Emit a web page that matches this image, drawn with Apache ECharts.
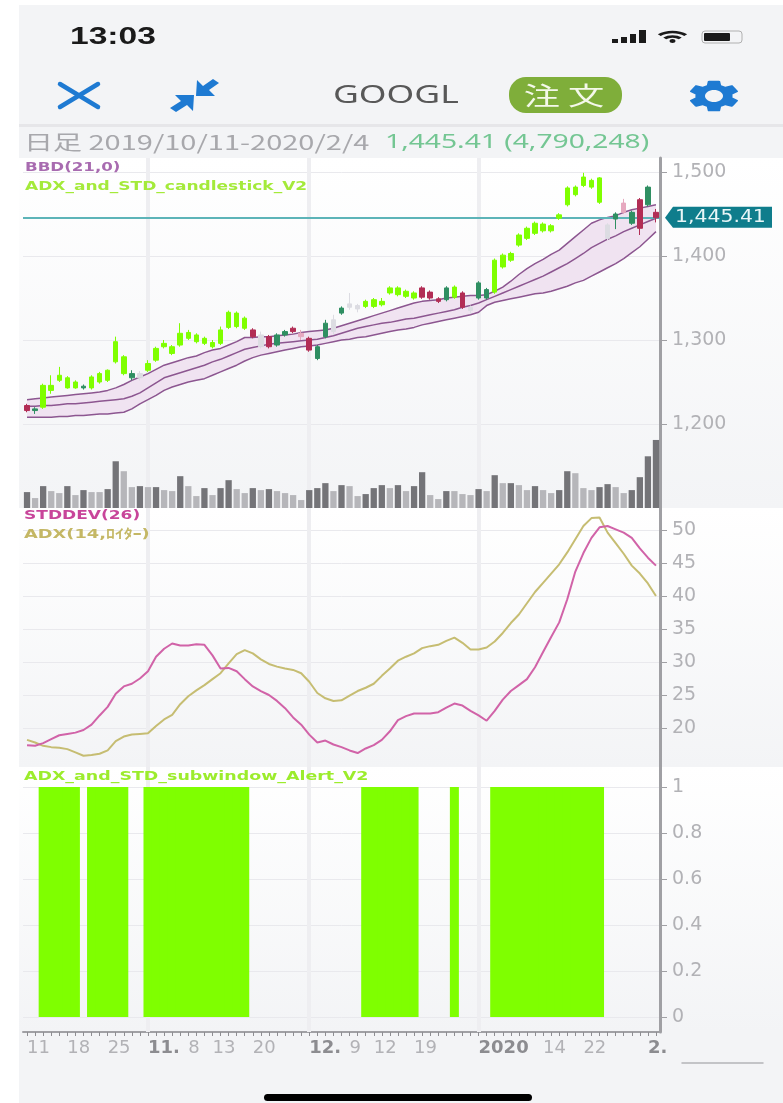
<!DOCTYPE html>
<html>
<head>
<meta charset="utf-8">
<style>
  html, body { margin: 0; padding: 0; background: #fff; }
  #chart { width: 783px; height: 1103px; filter: blur(0.6px); }
</style>
<script src="https://cdn.jsdelivr.net/npm/echarts@6/dist/echarts.min.js"></script>
</head>
<body>
<div id="chart"></div>
<script>
// trading days, 2019/10/11 - 2020/2/4
const categories = [
  '10/11','10/14','10/15','10/16','10/17','10/18','10/21','10/22','10/23','10/24',
  '10/25','10/28','10/29','10/30','10/31','11/1','11/4','11/5','11/6','11/7',
  '11/8','11/11','11/12','11/13','11/14','11/15','11/18','11/19','11/20','11/21',
  '11/22','11/25','11/26','11/27','11/29','12/2','12/3','12/4','12/5','12/6',
  '12/9','12/10','12/11','12/12','12/13','12/16','12/17','12/18','12/19','12/20',
  '12/23','12/24','12/26','12/27','12/30','12/31','1/2','1/3','1/6','1/7',
  '1/8','1/9','1/10','1/13','1/14','1/15','1/16','1/17','1/21','1/22',
  '1/23','1/24','1/27','1/28','1/29','1/30','1/31','2/3','2/4'
];
const xTickIndex = [0,5,10,15,20,23,28,35,40,43,48,56,64,69,77];
const xTickText = ['11','18','25','11.','8','13','20','12.','9','12','19','2020','14','22','2.'];
const xMonthText = ['11.','12.','2020','2.'];
const monthStarts = [15,35,56];

const priceTicks = [1200,1300,1400,1500];
const oscTicks = [20,25,30,35,40,45,50];
const alertTicks = [0,0.2,0.4,0.6,0.8,1];

const candleOpen = [
  1222,1218,1220,1240,1252,1243,1243,1245,1243,1250,
  1252,1274,1260,1255,1255,1264,1276,1292,1284,1294,
  1302,1298,1296,1292,1296,1315,1316,1314,1312,1292,
  1304,1294,1306,1314,1308,1302,1278,1304,1310,1332,
  1339,1337,1340,1340,1342,1356,1354,1352,1350,1362,
  1357,1349,1348,1351,1356,1335,1350,1350,1357,1387,
  1395,1413,1421,1427,1430,1430,1445,1461,1473,1484,
  1482,1464,1421,1444,1463,1439,1467,1461,1452
];
const candleClose = [
  1216,1216,1246,1246,1258,1255,1250,1243,1256,1260,
  1264,1298,1280,1260,1260,1272,1290,1296,1292,1308,
  1309,1306,1302,1297,1312,1333,1332,1326,1304,1306,
  1292,1306,1310,1310,1304,1288,1292,1320,1324,1338,
  1343,1341,1346,1348,1346,1362,1362,1358,1356,1351,
  1350,1346,1362,1363,1339,1339,1368,1360,1395,1401,
  1403,1425,1433,1439,1438,1436,1449,1481,1482,1494,
  1490,1493,1437,1450,1452,1452,1433,1482,1445.41
];
const candleLow = [
  1214,1212,1218,1236,1250,1242,1242,1241,1241,1248,
  1250,1272,1258,1252,1252,1262,1274,1290,1282,1292,
  1300,1296,1294,1290,1294,1313,1314,1312,1302,1290,
  1290,1292,1304,1308,1300,1286,1276,1302,1306,1330,
  1336,1333,1338,1338,1340,1354,1352,1350,1348,1349,
  1348,1344,1346,1349,1337,1331,1348,1348,1355,1385,
  1393,1411,1419,1425,1428,1428,1443,1459,1471,1482,
  1480,1462,1419,1432,1450,1437,1425,1459,1440
];
const candleHigh = [
  1224,1220,1248,1258,1268,1257,1252,1247,1258,1262,
  1265,1304,1282,1264,1263,1276,1292,1300,1294,1320,
  1312,1308,1304,1300,1316,1335,1334,1328,1314,1310,
  1306,1308,1312,1316,1312,1304,1294,1324,1330,1340,
  1356,1343,1348,1350,1350,1364,1364,1360,1358,1364,
  1359,1351,1364,1365,1358,1341,1370,1362,1397,1403,
  1405,1427,1435,1441,1440,1438,1451,1483,1484,1499,
  1492,1494,1439,1452,1468,1454,1469,1484,1456
];
// b bright up, g dark up, r down, h hollow grey, p hollow pink
const candleKinds = [
  'r','g','b','b','b','b','b','g','b','b',
  'b','b','b','g','h','b','b','b','b','b',
  'b','b','b','b','b','b','b','b','r','h',
  'r','g','g','r','p','r','g','g','h','g',
  'h','h','b','b','b','b','b','b','b','r',
  'r','r','g','b','r','h','g','g','b','b',
  'b','b','b','b','b','b','b','b','b','b',
  'b','b','h','g','p','g','r','g','r'
];

const bbUpper = [
  1229,1230,1231,1232,1233,1234,1235,1236,1237,1238,
  1240,1243,1247,1252,1256,1260,1265,1270,1273,1276,
  1279,1281,1285,1288,1290,1294,1298,1303,1303,1304,
  1304,1305,1306,1307,1309,1310,1311,1312,1314,1317,
  1320,1323,1326,1329,1332,1335,1338,1341,1344,1346,
  1347,1348,1350,1351,1352,1353,1353,1354,1358,1363,
  1370,1378,1385,1391,1396,1402,1407,1415,1423,1431,
  1439,1443,1446,1448,1452,1455,1457,1459,1461
];
const bbMiddle = [
  1221,1221,1222,1222,1223,1224,1224,1225,1226,1227,
  1228,1229,1230,1233,1237,1243,1249,1255,1258,1261,
  1264,1267,1270,1274,1277,1281,1285,1289,1291,1293,
  1295,1296,1297,1298,1299,1300,1301,1303,1305,1308,
  1311,1314,1316,1318,1320,1321,1323,1325,1326,1328,
  1330,1332,1334,1336,1339,1341,1344,1348,1352,1356,
  1360,1364,1368,1372,1376,1381,1386,1391,1397,1403,
  1410,1415,1420,1424,1429,1433,1437,1441,1445
];
const bbLower = [
  1208,1208,1208,1208,1209,1209,1210,1210,1211,1212,
  1212,1213,1214,1218,1224,1229,1234,1240,1244,1247,
  1250,1252,1254,1258,1262,1266,1270,1275,1279,1282,
  1284,1286,1288,1290,1292,1293,1294,1296,1298,1300,
  1301,1303,1304,1306,1308,1310,1312,1313,1315,1318,
  1320,1322,1324,1326,1328,1330,1333,1341,1345,1347,
  1349,1351,1353,1355,1356,1358,1361,1364,1368,1371,
  1376,1381,1386,1391,1397,1404,1411,1420,1429
];

// thousands of shares
const volumes = [
  1120,700,1540,1190,1050,1540,910,1260,1120,1120,
  1330,3290,2590,1470,1540,1470,1470,1260,1190,2240,
  1540,840,1400,910,1400,1960,1330,1050,1400,1260,
  1330,1190,1050,910,560,1260,1400,1750,1190,1610,
  1540,840,980,1400,1610,1400,1610,1190,1540,2520,
  910,630,1190,1190,980,910,1330,1190,2310,1750,
  1750,1610,1260,1540,1260,1050,1260,2590,2450,1400,
  1260,1470,1680,1470,1050,1260,2170,3640,4790
];
// d dark, l light
const volumeKinds = [
  'd','l','d','l','l','d','l','d','l','l',
  'd','d','l','l','d','l','d','l','l','d',
  'l','l','d','l','d','d','l','l','d','l',
  'd','l','l','l','l','d','d','d','l','d',
  'l','l','d','d','d','l','d','l','d','d',
  'l','l','d','l','l','l','d','l','d','l',
  'd','l','l','d','l','l','d','d','l','l',
  'l','d','d','l','l','d','d','d','d'
];

const stdDev = [
  17.4,17.3,17.7,18.3,18.9,19.1,19.3,19.7,20.5,21.9,
  23.2,25.2,26.3,26.7,27.5,28.6,30.8,32,32.8,32.5,
  32.5,32.7,32.6,31,29,29.1,28.6,27.4,26.3,25.6,
  25,24.1,23,21.6,20.5,19,17.8,18.1,17.5,17.1,
  16.6,16.2,16.9,17.4,18.2,19.5,21.2,21.8,22.2,22.2,
  22.2,22.4,23.1,23.7,23.4,22.6,21.9,21.1,22.6,24.3,
  25.6,26.5,27.4,29.2,31.5,33.8,36,39.5,43.7,46.5,
  48.8,50.4,50.6,50.1,49.6,48.8,47.2,45.8,44.6
];
const adx = [
  18.2,17.8,17.3,17.1,17,16.8,16.3,15.8,15.9,16.1,
  16.6,18,18.7,19,19.1,19.2,20.3,21.3,22,23.6,
  24.8,25.7,26.5,27.4,28.3,29.8,31.2,31.8,31.3,30.4,
  29.7,29.3,29,28.8,28.3,27,25.3,24.5,24.1,24.2,
  24.9,25.6,26.1,26.7,27.9,29,30.2,30.8,31.3,32.1,
  32.4,32.6,33.2,33.7,32.9,31.9,31.9,32.2,33.1,34.4,
  35.9,37.2,38.9,40.6,42,43.4,44.8,46.6,48.6,50.6,
  51.8,51.9,49.6,48,46.4,44.6,43.4,41.9,40
];
const alertFlags = [
  0,0,1,1,1,1,1,0,1,1,
  1,1,1,0,0,1,1,1,1,1,
  1,1,1,1,1,1,1,1,0,0,
  0,0,0,0,0,0,0,0,0,0,
  0,0,1,1,1,1,1,1,1,0,
  0,0,0,1,0,0,0,0,1,1,
  1,1,1,1,1,1,1,1,1,1,
  1,1,0,0,0,0,0,0,0
];
const lastPrice = 1445.41;

const candleColors = { b: '#7fff00', g: '#2f8f62', r: '#b22d55', h: '#dcdce2', p: '#e6a8bf' };
const FONT = '"DejaVu Sans", sans-serif';
const AXIS_GREY = '#a0a0a4';
const LABEL_GREY = '#b2b2b6';
const PAGE_BG = '#f3f4f6';

const candleData = categories.map((_, i) => {
  const c = candleColors[candleKinds[i]];
  return {
    value: [candleOpen[i], candleClose[i], candleLow[i], candleHigh[i]],
    itemStyle: { color: c, color0: c, borderColor: c, borderColor0: c }
  };
});
const volumeData = volumes.map((v, i) => ({
  value: v,
  itemStyle: { color: volumeKinds[i] === 'd' ? '#747478' : '#b6b6ba' }
}));

function xAxisFor(gridIndex, showLabels) {
  return {
    type: 'category', gridIndex, data: categories, boundaryGap: true,
    axisLine: { show: showLabels, onZero: false, lineStyle: { color: AXIS_GREY, width: 2 } },
    axisTick: { show: showLabels, interval: 0, length: 4, alignWithLabel: true, lineStyle: { color: '#8e8e92' } },
    splitLine: { show: false },
    axisLabel: showLabels ? {
      show: true,
      interval: idx => xTickIndex.includes(idx),
      formatter: (val, idx) => {
        const t = xTickText[xTickIndex.indexOf(idx)];
        return xMonthText.includes(t) ? '{m|' + t + '}' : '{d|' + t + '}';
      },
      align: 'left', margin: 7, hideOverlap: false,
      rich: {
        d: { fontFamily: FONT, fontSize: 18, color: LABEL_GREY },
        m: { fontFamily: FONT, fontSize: 18, fontWeight: 'bold', color: '#8c8c90' }
      }
    } : { show: false }
  };
}

function yAxisFor(gridIndex, min, max, ticks, fmt) {
  return {
    type: 'value', gridIndex, position: 'right', min, max, scale: true,
    axisLine: { show: true, onZero: false, lineStyle: { color: AXIS_GREY, width: 3 } },
    axisTick: { show: true, length: 7, customValues: ticks, lineStyle: { color: AXIS_GREY } },
    splitLine: { show: true, customValues: ticks, lineStyle: { color: '#e9e9ed' } },
    axisLabel: {
      show: true, customValues: ticks, margin: 12, formatter: fmt,
      fontFamily: FONT, fontSize: 19, color: LABEL_GREY
    }
  };
}

// pale vertical lines at the month starts, one set per panel
function monthLines(z) {
  return {
    silent: true, symbol: 'none', animation: false, z,
    label: { show: false },
    lineStyle: { color: '#eeeef1', width: 4, type: 'solid', opacity: 1 },
    data: monthStarts.map(i => ({ xAxis: i }))
  };
}

const PANEL_X = 19, PANEL_W = 764;
function panel(y, height) {
  return {
    type: 'rect', z: -1, silent: true,
    shape: { x: PANEL_X, y, width: PANEL_W, height },
    style: {
      fill: new echarts.graphic.LinearGradient(0, 0, 0, 1, [
        { offset: 0, color: '#ffffff' }, { offset: 1, color: PAGE_BG }
      ])
    }
  };
}
function txt(text, x, y, font, fill, scaleX, align) {
  return {
    type: 'text', x, y, z: 100, scaleX: scaleX || 1, silent: true,
    style: { text, font, fill, textAlign: align || 'left', textVerticalAlign: 'middle' }
  };
}
function stroke(x1, y1, x2, y2, color, width) {
  return {
    type: 'line', z: 100, silent: true,
    shape: { x1, y1, x2, y2 },
    style: { stroke: color, lineWidth: width, lineCap: 'round' }
  };
}
function poly(points, fill) {
  return { type: 'polygon', z: 100, silent: true, shape: { points }, style: { fill } };
}
function wifiArc(r, width) {
  return {
    type: 'arc', z: 100, silent: true, x: 672.5, y: 43, scaleX: 1.7,
    shape: { cx: 0, cy: 0, r, startAngle: -Math.PI * 0.75, endAngle: -Math.PI * 0.25 },
    style: { stroke: '#1a1a1a', fill: 'none', lineWidth: width }
  };
}
const BLUE = '#1e7ad2';
const gearPath = 'M19.14 12.94c.04-.3.06-.61.06-.94 0-.32-.02-.64-.07-.94l2.03-1.58c.18-.14.23-.41.12-.61l-1.92-3.32c-.12-.22-.37-.29-.59-.22l-2.39.96c-.5-.38-1.03-.7-1.62-.94l-.36-2.54c-.04-.24-.24-.41-.48-.41h-3.84c-.24 0-.43.17-.47.41l-.36 2.54c-.59.24-1.13.57-1.62.94l-2.39-.96c-.22-.08-.47 0-.59.22L2.74 8.87c-.12.21-.08.47.12.61l2.03 1.58c-.05.3-.09.63-.09.94s.02.64.07.94l-2.03 1.58c-.18.14-.23.41-.12.61l1.92 3.32c.12.22.37.29.59.22l2.39-.96c.5.38 1.03.7 1.62.94l.36 2.54c.05.24.24.41.48.41h3.84c.24 0 .44-.17.47-.41l.36-2.54c.59-.24 1.13-.56 1.62-.94l2.39.96c.22.08.47 0 .59-.22l1.92-3.32c.12-.22.07-.47-.12-.61l-2.01-1.58z';
echarts.graphic.registerShape('gearIcon', echarts.graphic.extendPath(gearPath, {}));

const chromeElements = [
  { type: 'rect', z: -2, silent: true, shape: { x: PANEL_X, y: 5, width: PANEL_W, height: 1098 }, style: { fill: PAGE_BG } },
  panel(158, 350), panel(508, 259), panel(767, 265),
  { type: 'rect', z: -1, silent: true, shape: { x: PANEL_X, y: 124, width: PANEL_W, height: 3 }, style: { fill: '#e6e6e9' } },

  // status bar
  txt('13:03', 70, 37, 'bold 24px "Liberation Sans", sans-serif', '#1a1a1a', 1.4),
  { type: 'rect', z: 100, shape: { x: 612, y: 39, width: 6, height: 4 }, style: { fill: '#1a1a1a' } },
  { type: 'rect', z: 100, shape: { x: 621, y: 37, width: 6, height: 6 }, style: { fill: '#1a1a1a' } },
  { type: 'rect', z: 100, shape: { x: 630, y: 34, width: 6, height: 9 }, style: { fill: '#1a1a1a' } },
  { type: 'rect', z: 100, shape: { x: 639, y: 30, width: 7, height: 13 }, style: { fill: '#1a1a1a' } },
  wifiArc(11, 2.4), wifiArc(6.5, 2.4),
  { type: 'ellipse', z: 100, silent: true, shape: { cx: 672.5, cy: 41, rx: 3, ry: 2 }, style: { fill: '#1a1a1a' } },
  { type: 'rect', z: 100, shape: { x: 702, y: 31, width: 40, height: 12, r: 3 }, style: { fill: 'none', stroke: '#b0b0b0', lineWidth: 1 } },
  { type: 'rect', z: 100, shape: { x: 704, y: 33, width: 26, height: 8, r: 1 }, style: { fill: '#1a1a1a' } },

  // tool bar
  stroke(60, 84, 98, 107, BLUE, 4.5),
  stroke(98, 84, 60, 107, BLUE, 4.5),
  poly([[194,95],[175,95],[181,101],[170,108],[176,112],[187,105],[193,111]], BLUE),
  poly([[196,96],[215,96],[209,90],[219,83],[213,79],[203,86],[197,80]], BLUE),
  txt('GOOGL', 333, 96, '25px "Noto Sans", sans-serif', '#585858', 1.42),
  { type: 'rect', z: 99, shape: { x: 509, y: 77, width: 113, height: 36, r: 17 }, style: { fill: '#7fae3a' } },
  txt('注 文', 564, 95, '25px "Noto Sans CJK JP", sans-serif', '#f4f8ea', 1.45, 'center'),
  { type: 'gearIcon', z: 100, silent: true, x: 683, y: 76.8, scaleX: 2.58, scaleY: 1.6, style: { fill: BLUE } },
  { type: 'ellipse', z: 101, silent: true, shape: { cx: 714, cy: 96, rx: 9, ry: 6 }, style: { fill: PAGE_BG } },

  // period and last price
  txt('日足 2019/10/11-2020/2/4', 24, 142, '20px "Noto Sans CJK JP", sans-serif', '#a8a8ac', 1.45),
  txt('1,445.41 (4,790,248)', 385, 142, '20px "Noto Sans", sans-serif', '#74c693', 1.41),

  // indicator names
  txt('BBD(21,0)', 25, 168, 'bold 13px "DejaVu Sans", sans-serif', '#a86bb0', 1.28),
  txt('ADX_and_STD_candlestick_V2', 25, 187, 'bold 13px "DejaVu Sans", sans-serif', '#a4ea3a', 1.31),
  txt('STDDEV(26)', 24, 516, 'bold 13px "DejaVu Sans", sans-serif', '#c8459a', 1.31),
  txt('ADX(14,ﾛｲﾀｰ)', 24, 535, 'bold 13px "DejaVu Sans", "Noto Sans CJK JP", sans-serif', '#c4b765', 1.37),
  txt('ADX_and_STD_subwindow_Alert_V2', 24, 777, 'bold 13px "DejaVu Sans", sans-serif', '#9cec2c', 1.34),

  // bottom of the screen
  stroke(682, 1063, 763, 1063, '#b4b4b8', 1.5),
  { type: 'rect', z: 100, shape: { x: 264, y: 1094, width: 268, height: 7, r: 3.5 }, style: { fill: '#000' } }
];

const option = {
  animation: false,
  backgroundColor: '#ffffff',
  textStyle: { fontFamily: FONT },
  grid: [
    { left: 23, right: 123, top: 158, height: 350 },
    { left: 23, right: 123, top: 508, height: 259 },
    { left: 23, right: 123, top: 767, height: 265 }
  ],
  xAxis: [xAxisFor(0, false), xAxisFor(1, false), xAxisFor(2, true)],
  yAxis: [
    yAxisFor(0, 1100, 1516.67, priceTicks, v => v.toLocaleString('en-US')),
    { type: 'value', gridIndex: 0, min: 0, max: 24640, show: false },
    yAxisFor(1, 14.09, 53.33, oscTicks, v => String(v)),
    yAxisFor(2, -0.065, 1.087, alertTicks, v => String(v))
  ],
  graphic: { elements: chromeElements },
  series: [
    {
      type: 'bar', name: 'volume', xAxisIndex: 0, yAxisIndex: 1, data: volumeData,
      barWidth: '78%', z: 2, silent: true,
      markLine: monthLines(1)
    },
    // band fill: lower edge plus the band height, stacked
    {
      type: 'line', name: 'bbBase', xAxisIndex: 0, yAxisIndex: 0, stack: 'bb', data: bbLower,
      symbol: 'none', lineStyle: { opacity: 0 }, z: 3, silent: true
    },
    {
      type: 'line', name: 'bbFill', xAxisIndex: 0, yAxisIndex: 0, stack: 'bb',
      data: bbUpper.map((u, i) => u - bbLower[i]),
      symbol: 'none', lineStyle: { opacity: 0 }, areaStyle: { color: '#f0e3f1', opacity: 1 }, z: 3, silent: true
    },
    ...[['bbUpper', bbUpper], ['bbMiddle', bbMiddle], ['bbLower', bbLower]].map(([name, data]) => ({
      type: 'line', name, xAxisIndex: 0, yAxisIndex: 0, data, symbol: 'none',
      lineStyle: { color: '#8c5690', width: 1.5 }, z: 4, silent: true
    })),
    {
      type: 'candlestick', name: 'GOOGL', xAxisIndex: 0, yAxisIndex: 0, data: candleData,
      barWidth: 5, z: 5, silent: true,
      markLine: {
        silent: true, symbol: 'none', animation: false,
        label: { show: false },
        lineStyle: { color: '#5db4b8', width: 2, type: 'solid' },
        data: [{ yAxis: lastPrice }]
      }
    },
    {
      type: 'line', name: 'ADX', xAxisIndex: 1, yAxisIndex: 2, data: adx, symbol: 'none',
      lineStyle: { color: '#c6bd72', width: 2 }, z: 3, silent: true,
      markLine: monthLines(1)
    },
    {
      type: 'line', name: 'STDDEV', xAxisIndex: 1, yAxisIndex: 2, data: stdDev, symbol: 'none',
      lineStyle: { color: '#d163a8', width: 2 }, z: 4, silent: true
    },
    {
      // flagged days only, a zero would leave a hairline on the axis
      type: 'bar', name: 'alert', xAxisIndex: 2, yAxisIndex: 3,
      data: alertFlags.map(f => (f ? f : '-')),
      barWidth: 9, itemStyle: { color: '#7fff00' }, z: 3, silent: true,
      markLine: monthLines(1)
    }
  ]
};

const chart = echarts.init(document.getElementById('chart'), null, { renderer: 'canvas' });
chart.setOption(option);

// price tag sits on the axis, so take its height from the price scale
const tagY = chart.convertToPixel({ yAxisIndex: 0 }, lastPrice);
chromeElements.push(
  poly([[665, tagY], [673, tagY - 11], [772, tagY - 11], [772, tagY + 10], [673, tagY + 10]], '#0f7d8c'),
  txt(lastPrice.toFixed(2).replace(/^(\d)/, '$1,'), 675, tagY, '17px "DejaVu Sans", sans-serif', '#e8f6f7', 1.2)
);
chart.setOption({ graphic: { elements: chromeElements } });
</script>
</body>
</html>
